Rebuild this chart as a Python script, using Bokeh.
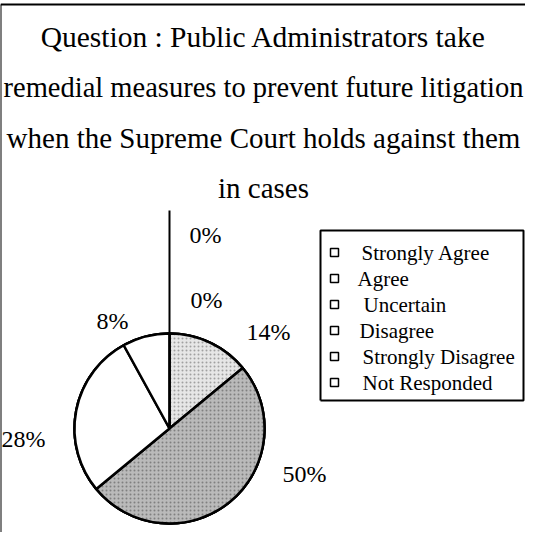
import math
from bokeh.plotting import figure
from bokeh.models import Range1d, ColumnDataSource
from bokeh.core.properties import value
from bokeh.embed import file_html
from bokeh.resources import INLINE

# ---- data ----
categories = ["Strongly Agree", "Agree", "Uncertain", "Disagree",
              "Strongly Disagree", "Not Responded"]
percents = [0, 0, 14, 50, 28, 8]
title_lines = ["Question : Public Administrators take",
               "remedial measures to prevent future litigation",
               "when the Supreme Court holds against them",
               "in cases"]

# ---- styling / layout ----
fills = ["white", "white", "#e6e6e6", "#bababa", "white", "white"]
hatches = [" ", " ", ".", ".", " ", " "]
hatch_colors = ["white", "white", "#a0a0a0", "#808080", "white", "white"]
# label anchor positions (layout, plot px coords)
label_pos = [(205, 298), (206, 233), (268, 201), (304, 59), (1, 94), (112, 212)]
label_align = ["center", "center", "center", "center", "left", "center"]
legend_indent = [2, -2, 4, 0, 3, 3]
title_sizes = ["29.5px", "28.5px", "29px", "29px"]

W, H = 525, 532
FONT = value("Liberation Serif")
p = figure(width=W, height=H, output_backend="svg", toolbar_location=None,
           x_range=Range1d(0, W), y_range=Range1d(0, H), min_border=0)
p.axis.visible = False
p.grid.visible = False
p.outline_line_color = None
p.background_fill_color = "white"

# frame
p.line([0, 0], [0, 528], line_color="black", line_width=2)
p.line([0, W], [528, 528], line_color="black", line_width=2)

# title
for i, t in enumerate(title_lines):
    p.text(x=[263], y=[496 - 50.5 * i], text=[t], text_font=FONT,
           text_font_size=title_sizes[i], text_align="center",
           text_baseline="alphabetic", text_color="black")

# pie
cx, cy, r = 169, 104, 95
starts, ends = [], []
a = math.pi / 2
for v in percents:
    span = v / 100 * 2 * math.pi
    starts.append(a)
    ends.append(a - span)
    a -= span
src = ColumnDataSource(dict(start=starts, end=ends, fill=fills, hatch=hatches,
                            hcol=hatch_colors, cat=categories))
p.wedge(x=cx, y=cy, radius=r, start_angle="end", end_angle="start",
        fill_color="fill", hatch_pattern="hatch", hatch_color="hcol",
        hatch_scale=4, hatch_weight=1, line_color="black", line_width=2.5,
        source=src)
# leader line for 0% categories
p.line([cx, cx], [cy, 322], line_color="black", line_width=2)

# percent labels
for (lx, ly), al, v in zip(label_pos, label_align, percents):
    p.text(x=[lx], y=[ly], text=[f"{v}%"], text_font=FONT,
           text_font_size="24px", text_align=al, text_baseline="middle",
           text_color="black")

# legend box
lx0, lx1, ly0, ly1 = 320, 523, 132, 302
p.line([lx0, lx1, lx1, lx0, lx0], [ly0, ly0, ly1, ly1, ly0],
       line_color="black", line_width=2)
for i, c in enumerate(categories):
    yy = 280 - 26 * i
    p.scatter(x=[334], y=[yy], marker="square", size=8, fill_color="white",
              line_color="black", line_width=1.5)
    p.text(x=[359 + legend_indent[i]], y=[yy], text=[c], text_font=FONT,
           text_font_size="21px", text_align="left", text_baseline="middle",
           text_color="black")

open("out.html", "w").write(file_html(p, INLINE))
